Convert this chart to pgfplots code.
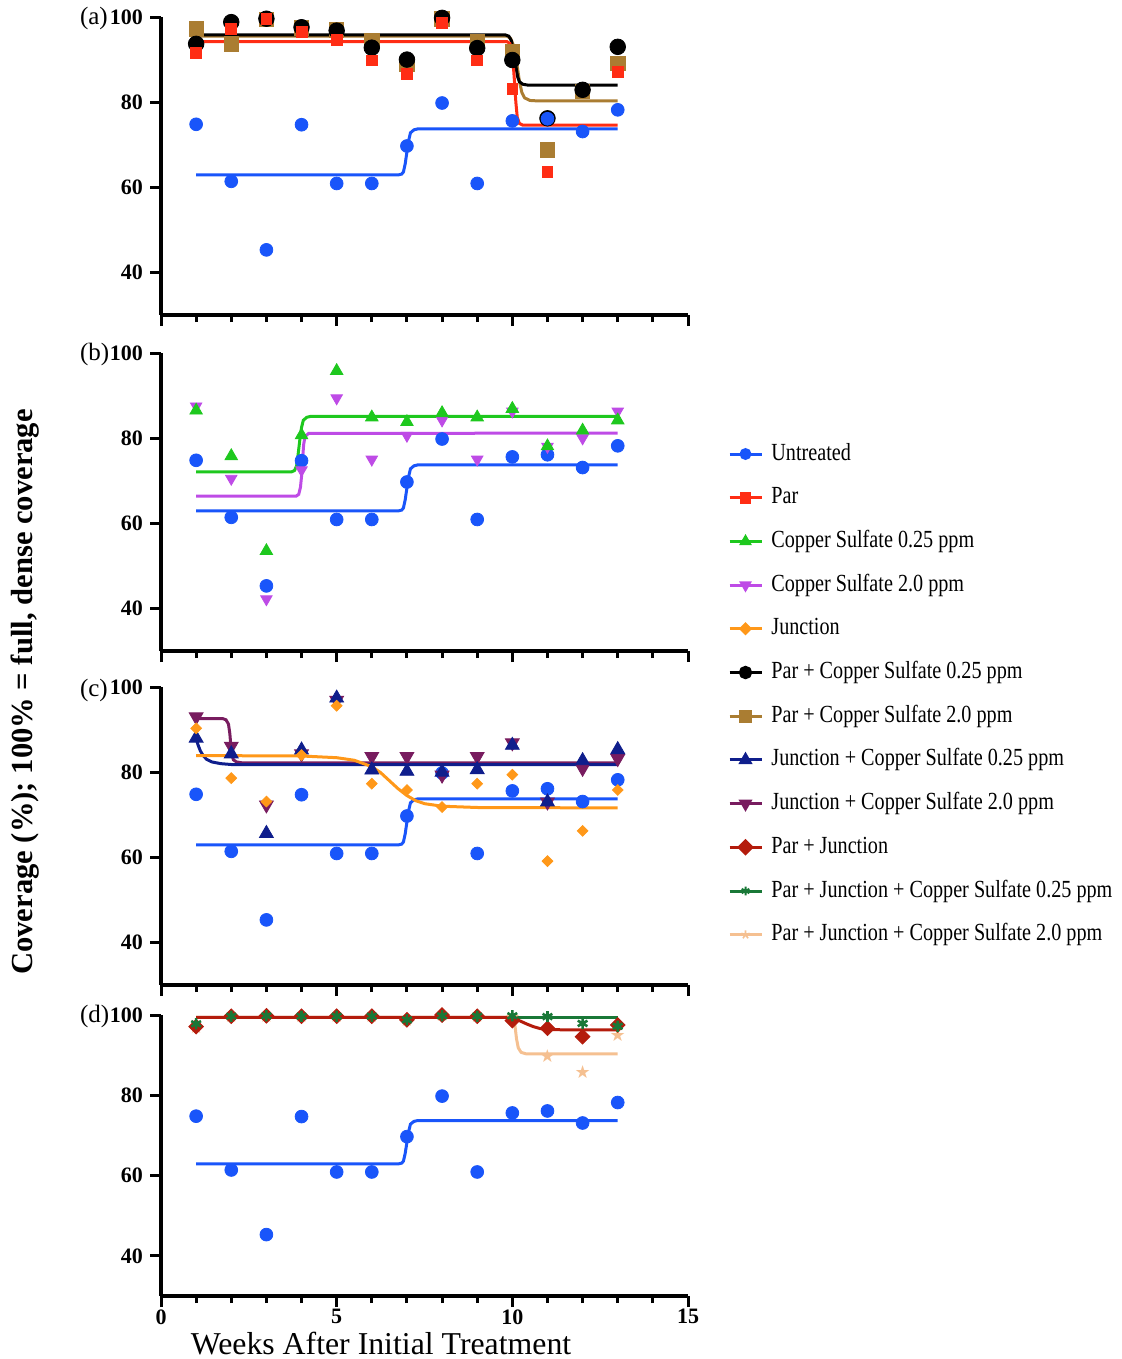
\documentclass[border=0pt]{standalone}
\usepackage{pgfplots}
\usepackage{pgfplotstable}
\pgfplotsset{compat=1.18}
\usepackage{fontspec}
\setmainfont{Liberation Serif}
\newfontfamily\legfont[FakeStretch=0.82]{Liberation Serif}
\newfontfamily\symfont{DejaVu Sans}
\usetikzlibrary{plotmarks}

% treatment colours
\definecolor{cUnt}{RGB}{25,85,250}
\definecolor{cPar}{RGB}{255,45,20}
\definecolor{cCuA}{RGB}{30,200,30}
\definecolor{cCuB}{RGB}{190,75,230}
\definecolor{cJn}{RGB}{255,152,25}
\definecolor{cPCuA}{RGB}{0,0,0}
\definecolor{cPCuB}{RGB}{170,125,50}
\definecolor{cJCuA}{RGB}{15,30,140}
\definecolor{cJCuB}{RGB}{120,28,95}
\definecolor{cPJ}{RGB}{180,28,12}
\definecolor{cPJCuA}{RGB}{25,120,55}
\definecolor{cPJCuB}{RGB}{245,192,145}

% weekly coverage (%) per treatment
\pgfplotstableread{
w  unt  par  cuA  cuB  jn   pcuA pcuB jcuA jcuB pj    pjcuA pjcuB
1  74.8 91.6 86.5 87.5 90.3 93.7 97.2 88.0 93.0 97.1  97.8  97.1
2  61.4 97.2 75.8 70.5 78.6 98.8 93.7 84.3 86.1 99.7  99.7  99.7
3  45.3 99.5 53.5 42.2 73.1 99.6 99.4 65.6 72.3 99.8  99.8  99.8
4  74.7 96.5 80.7 72.5 84.0 97.6 97.4 85.2 84.3 99.7  99.7  99.7
5  60.9 94.6 95.8 89.4 95.6 96.8 97.0 97.4 96.9 99.7  99.7  99.7
6  60.9 89.8 84.9 75.0 77.3 92.8 94.4 80.5 83.7 99.7  99.7  99.7
7  69.7 86.7 83.8 80.6 75.8 90.0 88.8 80.2 83.7 98.8  98.8  98.8
8  79.8 98.7 85.9 84.2 71.8 99.8 99.6 80.0 79.3 100.0 99.8  99.9
9  60.9 89.8 84.9 75.0 77.3 92.7 94.3 80.6 83.7 99.7  99.7  99.7
10 75.6 83.2 86.9 86.3 79.4 89.9 91.9 86.3 86.9 98.6  99.8  99.6
11 76.1 63.7 78.1 78.0 59.1 76.2 68.8 73.0 73.0 96.7  99.6  89.8
12 73.1 nan  81.8 80.0 66.2 82.9 82.5 82.7 80.9 94.6  97.9  85.9
13 78.2 87.2 84.2 86.3 75.8 93.0 89.1 85.3 83.2 97.5  97.2  95.0
}\data

\pgfplotsset{
  panel/.style={
    scale only axis, width=263.5pt, height=149pt,
    xmin=0, xmax=15, ymin=30, ymax=100,
    axis x line=bottom, axis y line=left,
    axis line style={line width=1.6pt, -},
    xtick={0,5,10,15}, minor xtick={1,2,3,4,6,7,8,9,11,12,13,14},
    ytick={40,60,80,100},
    tick align=outside,
    major tick length=5.5pt, minor tick length=3.5pt,
    every tick/.style={black, line width=1.5pt},
    ticklabel style={font=\bfseries\fontsize{11}{12}\selectfont},
    xticklabel style={inner sep=0.5pt, yshift=-0.5pt},
    /pgf/number format/assume math mode=true,
    xticklabels={},
    clip=false,
  },
  fit/.style={line width=1.5pt},
}

% untreated control, repeated in every panel
\newcommand\untreated{%
  \addplot[cUnt, fit] coordinates {(1,62.9) (6.75,62.9) (6.85,63.1) (6.9,63.6) (6.95,65.5) (7.0,68.3) (7.05,71) (7.1,72.8) (7.2,73.5) (7.3,73.7) (13,73.7)};
  \addplot[only marks, mark=*, mark size=3.2pt, color=cUnt] table[x=w, y=unt] {\data};
}

\begin{document}
\begin{tikzpicture}
\path[use as bounding box] (0,0) rectangle (561pt,-679.5pt);

% (a) Par and Par + copper sulfate
\begin{axis}[panel, at={(80.5pt,-157.5pt)}, anchor=south west]
  \addplot[cPCuB, fit] coordinates {(1,95.5) (9.85,95.5) (9.95,95) (10.05,93) (10.12,89.5) (10.2,85) (10.27,82.3) (10.35,81) (10.5,80.4) (10.7,80.3) (13,80.3)};
  \addplot[only marks, mark=square*, mark size=3.6pt, color=cPCuB] table[x=w, y=pcuB] {\data};
  \addplot[cPCuA, fit] coordinates {(1,95.8) (9.8,95.8) (9.9,95.5) (9.97,94.5) (10.03,92) (10.1,88.5) (10.15,86) (10.2,84.8) (10.3,84.2) (10.45,84.0) (13,84.0)};
  \addplot[only marks, mark=*, mark size=3.9pt, color=cPCuA] table[x=w, y=pcuA] {\data};
  \untreated
  \addplot[cPar, fit] coordinates {(1,94.2) (9.85,94.2) (9.93,93.8) (9.98,92.5) (10.02,89.5) (10.06,85) (10.1,80) (10.14,76.5) (10.2,75) (10.3,74.6) (13,74.6)};
  \addplot[only marks, mark=square*, mark size=2.7pt, color=cPar] table[x=w, y=par] {\data};
\end{axis}

% (b) copper sulfate alone
\begin{axis}[panel, at={(80.5pt,-325.5pt)}, anchor=south west]
  \untreated
  \addplot[cCuB, fit] coordinates {(1,66.4) (3.85,66.4) (3.92,66.8) (3.97,68.5) (4.0,71) (4.03,75) (4.06,78.5) (4.1,80.4) (4.2,81.1) (13,81.2)};
  \addplot[only marks, mark=triangle*, mark size=3.3pt, mark options={rotate=180}, color=cCuB] table[x=w, y=cuB] {\data};
  \addplot[cCuA, fit] coordinates {(1,72.1) (3.72,72.1) (3.8,72.4) (3.86,73.5) (3.9,76) (3.95,79.5) (4.0,82.5) (4.05,84.2) (4.15,84.9) (4.25,85.1) (13,85.1)};
  \addplot[only marks, mark=triangle*, mark size=3.6pt, color=cCuA] table[x=w, y=cuA] {\data};
\end{axis}

% (c) Junction and Junction + copper sulfate
\begin{axis}[panel, at={(80.5pt,-492.5pt)}, anchor=south west]
  \untreated
  \addplot[cJCuB, fit] coordinates {(1,92.6) (1.75,92.6) (1.85,92.3) (1.92,91.3) (1.96,89) (1.99,86) (2.02,84) (2.06,82.9) (2.15,82.4) (2.3,82.2) (13,82.2)};
  \addplot[only marks, mark=triangle*, mark size=4pt, mark options={rotate=180}, color=cJCuB] table[x=w, y=jcuB] {\data};
  \addplot[cJCuA, fit] coordinates {(1,88.0) (1.05,86.5) (1.12,85) (1.2,83.9) (1.3,83) (1.45,82.4) (1.7,82) (2,81.8) (13,81.8)};
  \addplot[only marks, mark=triangle*, mark size=4pt, color=cJCuA] table[x=w, y=jcuA] {\data};
  \addplot[cJn, fit] coordinates {(1,83.9) (4,83.8) (5,83.4) (5.5,82.8) (6,81.3) (6.25,79.9) (6.5,78) (6.75,76.1) (7,74.5) (7.25,73.3) (7.5,72.6) (8,72) (9,71.7) (13,71.6)};
  \addplot[only marks, mark=square*, mark size=1.9pt, mark options={rotate=45}, color=cJn] table[x=w, y=jn] {\data};
\end{axis}

% (d) Par + Junction, with and without copper sulfate
\begin{axis}[panel, height=140.5pt, at={(80.5pt,-648pt)}, anchor=south west,
    xticklabels={0,5,10,15}]
  \untreated
  \addplot[cPJCuB, fit] coordinates {(1,99.4) (10.0,99.4) (10.05,98.8) (10.08,97) (10.12,94) (10.17,91.8) (10.25,90.7) (10.38,90.35) (10.6,90.3) (13,90.3)};
  \addplot[cPJCuA, fit] coordinates {(1,99.4) (13,99.4)};
  \addplot[cPJ, fit] coordinates {(1,99.4) (9.85,99.4) (10.0,99.2) (10.2,98.6) (10.4,97.8) (10.6,97.1) (10.8,96.6) (11.0,96.4) (11.5,96.3) (13,96.3)};
  \addplot[only marks, mark=text, text mark={\color{cPJCuB}\symfont\fontsize{9}{9}\selectfont ★}] table[x=w, y=pjcuB] {\data};
  \addplot[only marks, mark=square*, mark size=2.6pt, mark options={rotate=45}, color=cPJ] table[x=w, y=pj] {\data};
  \addplot[only marks, mark=asterisk, mark size=2.8pt, mark options={line width=1.3pt}, color=cPJCuA] table[x=w, y=pjcuA] {\data};
\end{axis}

% legend for all treatments
\begin{axis}[hide axis, scale only axis, width=10pt, height=10pt,
    xmin=0, xmax=1, ymin=0, ymax=1,
    at={(364pt,-221pt)}, anchor=north west,
    legend cell align=left,
    legend image code/.code={\draw[mark repeat=2, mark phase=2] plot coordinates {(0pt,0pt) (8pt,0pt) (16pt,0pt)};},
    legend style={at={(0,1)}, anchor=north west, draw=none, fill=none,
      inner sep=0pt, outer sep=0pt, row sep=9.85pt,
      font=\legfont\fontsize{12.3}{14}\selectfont,
      nodes={inner sep=0pt, text height=9pt, text depth=3pt},
      /tikz/every odd column/.append style={column sep=4.2pt}}]
  \addlegendimage{cUnt, line width=1.5pt, mark=*, mark size=2.2pt}
  \addlegendentry{Untreated}
  \addlegendimage{cPar, line width=1.5pt, mark=square*, mark size=2.2pt}
  \addlegendentry{Par}
  \addlegendimage{cCuA, line width=1.5pt, mark=triangle*, mark size=2.2pt}
  \addlegendentry{Copper Sulfate 0.25 ppm}
  \addlegendimage{cCuB, line width=1.5pt, mark=triangle*, mark size=2.2pt, mark options={rotate=180}}
  \addlegendentry{Copper Sulfate 2.0 ppm}
  \addlegendimage{cJn, line width=1.5pt, mark=square*, mark size=1.6pt, mark options={rotate=45}}
  \addlegendentry{Junction}
  \addlegendimage{cPCuA, line width=1.5pt, mark=*, mark size=2.6pt}
  \addlegendentry{Par + Copper Sulfate 0.25 ppm}
  \addlegendimage{cPCuB, line width=1.5pt, mark=square*, mark size=2.6pt}
  \addlegendentry{Par + Copper Sulfate 2.0 ppm}
  \addlegendimage{cJCuA, line width=1.5pt, mark=triangle*, mark size=2.6pt}
  \addlegendentry{Junction + Copper Sulfate 0.25 ppm}
  \addlegendimage{cJCuB, line width=1.5pt, mark=triangle*, mark size=2.6pt, mark options={rotate=180}}
  \addlegendentry{Junction + Copper Sulfate 2.0 ppm}
  \addlegendimage{cPJ, line width=1.5pt, mark=square*, mark size=2.2pt, mark options={rotate=45}}
  \addlegendentry{Par + Junction}
  \addlegendimage{cPJCuA, line width=1.5pt, mark=asterisk, mark size=2.2pt, mark options={line width=1pt}}
  \addlegendentry{Par + Junction + Copper Sulfate 0.25 ppm}
  \addlegendimage{cPJCuB, line width=1.5pt, mark=star, mark size=2.2pt, mark options={line width=0.8pt}}
  \addlegendentry{Par + Junction + Copper Sulfate 2.0 ppm}
\end{axis}

% panel tags and axis titles
\node[anchor=west, font=\fontsize{12.5}{14}\selectfont] at (36.5pt,-9pt) {(a)};
\node[anchor=west, font=\fontsize{12.5}{14}\selectfont] at (36.5pt,-177pt) {(b)};
\node[anchor=west, font=\fontsize{12.5}{14}\selectfont] at (36.5pt,-345pt) {(c)};
\node[anchor=west, font=\fontsize{12.5}{14}\selectfont] at (36.5pt,-508pt) {(d)};
\node[rotate=90, font=\bfseries\fontsize{15.3}{18}\selectfont] at (12.5pt,-346pt) {Coverage (\%); 100\% = full, dense coverage};
\node[inner sep=0pt, font=\fontsize{15.9}{18}\selectfont] at (190.5pt,-672pt) {Weeks After Initial Treatment};
\end{tikzpicture}
\end{document}
